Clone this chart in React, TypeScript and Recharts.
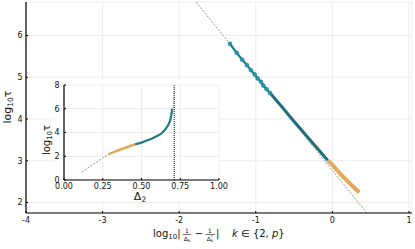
import { CartesianGrid, Line, LineChart, ReferenceLine, XAxis, YAxis } from "recharts";

const FONT = "DejaVu Sans, sans-serif";

const mainXTicks = [-4, -3, -2, -1, 0, 1];
const mainYTicks = [2, 3, 4, 5, 6];
const insetXTicks = [0, 0.25, 0.5, 0.75, 1];
const insetYTicks = [0, 2, 4, 6, 8];

// reference slope line in the main panel
const fitLine = [
  { x: -1.78, y: 6.8 },
  { x: 0.45, y: 1.75 },
];

// upper part: sparse points, markers visible
const tealSparse = [
  { x: -1.337, y: 5.8 },
  { x: -1.249, y: 5.584 },
  { x: -1.176, y: 5.416 },
  { x: -1.115, y: 5.289 },
  { x: -1.063, y: 5.169 },
  { x: -1.014, y: 5.066 },
  { x: -0.975, y: 4.97 },
  { x: -0.932, y: 4.889 },
  { x: -0.902, y: 4.802 },
  { x: -0.858, y: 4.714 },
  { x: -0.815, y: 4.625 },
];

// lower part: dense points, merges into a thick line
const tealDense = [
  { x: -0.815, y: 4.625 },
  { x: -0.78, y: 4.55 },
  { x: -0.71, y: 4.4 },
  { x: -0.64, y: 4.25 },
  { x: -0.56, y: 4.07 },
  { x: -0.48, y: 3.9 },
  { x: -0.4, y: 3.73 },
  { x: -0.32, y: 3.56 },
  { x: -0.24, y: 3.39 },
  { x: -0.16, y: 3.22 },
  { x: -0.09, y: 3.07 },
  { x: -0.06, y: 3.01 },
];

const orangeMain = [
  { x: -0.06, y: 3.01 },
  { x: 0.0, y: 2.9 },
  { x: 0.05, y: 2.8 },
  { x: 0.1, y: 2.7 },
  { x: 0.15, y: 2.6 },
  { x: 0.2, y: 2.51 },
  { x: 0.25, y: 2.42 },
  { x: 0.3, y: 2.33 },
  { x: 0.35, y: 2.24 },
];

const insetCurve = [
  { x: 0.115, y: 0.65 },
  { x: 0.15, y: 0.98 },
  { x: 0.2, y: 1.42 },
  { x: 0.25, y: 1.85 },
  { x: 0.29, y: 2.18 },
  { x: 0.35, y: 2.45 },
  { x: 0.4, y: 2.7 },
  { x: 0.45, y: 2.95 },
  { x: 0.5, y: 3.18 },
  { x: 0.55, y: 3.4 },
  { x: 0.6, y: 3.7 },
  { x: 0.64, y: 4.05 },
  { x: 0.67, y: 4.5 },
  { x: 0.69, y: 5.1 },
  { x: 0.7, y: 5.7 },
  { x: 0.705, y: 6.2 },
  { x: 0.71, y: 7.0 },
  { x: 0.713, y: 8.0 },
];

const insetOrange = [
  { x: 0.289, y: 2.18 },
  { x: 0.32, y: 2.35 },
  { x: 0.35, y: 2.5 },
  { x: 0.38, y: 2.64 },
  { x: 0.41, y: 2.78 },
  { x: 0.44, y: 2.92 },
  { x: 0.459, y: 3.0 },
];

const insetTeal = [
  { x: 0.459, y: 3.0 },
  { x: 0.5, y: 3.15 },
  { x: 0.53, y: 3.3 },
  { x: 0.565, y: 3.48 },
  { x: 0.6, y: 3.7 },
  { x: 0.628, y: 3.9 },
  { x: 0.65, y: 4.2 },
  { x: 0.671, y: 4.6 },
  { x: 0.685, y: 5.0 },
  { x: 0.692, y: 5.46 },
  { x: 0.698, y: 6.0 },
];

const criticalDelta = 0.711;

const TEAL = "#1f7d8c";
const TEAL_DARK = "#1b6f7c";
const TEAL_DOT = "#2a95a8";
const ORANGE = "#e2a95b";
const GRAY = "#8a8a8a";
const GRID = "#e9e9e9";

const tickStyle = { fontSize: 8, fill: "#111", fontFamily: FONT };
const axisLine = { stroke: "#000", strokeWidth: 1.2 };

function MainXLabel() {
  const small = { fontSize: 6, fontFamily: FONT, fill: "#111" };
  return (
    <g fontFamily={FONT} fill="#111">
      <text x={153} y={237} fontSize={10}>
        log<tspan fontSize={7} dy={2}>10</tspan>
        <tspan dy={-2}>|</tspan>
      </text>
      <text x={187} y={232.5} textAnchor="middle" {...small}>1</text>
      <line x1={183} x2={191} y1={234.5} y2={234.5} stroke="#111" strokeWidth={0.6} />
      <text x={187} y={241} textAnchor="middle" {...small}>
        Δ<tspan fontSize={4} dy={1}>k</tspan>
      </text>
      <text x={199} y={237} fontSize={10} textAnchor="middle">−</text>
      <text x={210} y={232.5} textAnchor="middle" {...small}>1</text>
      <line x1={205.5} x2={214.5} y1={234.5} y2={234.5} stroke="#111" strokeWidth={0.6} />
      <text x={210} y={241} textAnchor="middle" {...small}>
        Δ<tspan fontSize={4} dy={1}>k</tspan>
        <tspan fontSize={4} dx={-2.5} dy={-4}>*</tspan>
      </text>
      <text x={216} y={237} fontSize={10}>|</text>
      <text x={232} y={237} fontSize={10}>
        <tspan fontStyle="italic">k</tspan> ∈ {"{"}2, <tspan fontStyle="italic">p</tspan>{"}"}
      </text>
    </g>
  );
}

function Inset() {
  return (
    <div style={{ position: "absolute", left: 40, top: 80, width: 190, height: 123 }}>
      <div style={{ position: "absolute", left: 15, top: 0, width: 165, height: 121, background: "#fff" }} />
      <div style={{ position: "absolute", left: 0, top: 0 }}>
        <LineChart width={190} height={123} margin={{ top: 5, right: 11, bottom: 0, left: 0 }}>
          <CartesianGrid stroke={GRID} strokeWidth={0.8} />
          <XAxis
            type="number"
            dataKey="x"
            domain={[0, 1]}
            ticks={insetXTicks}
            interval={0}
            allowDataOverflow
            height={23}
            axisLine={axisLine}
            tickLine={{ stroke: "#000" }}
            tickSize={-2}
            tickMargin={5}
            tick={tickStyle}
            tickFormatter={(v: number) => v.toFixed(2)}
          />
          <YAxis
            type="number"
            dataKey="y"
            domain={[0, 8]}
            ticks={insetYTicks}
            interval={0}
            allowDataOverflow
            width={24}
            axisLine={axisLine}
            tickLine={{ stroke: "#000" }}
            tickSize={-2}
            tickMargin={6.5}
            tick={tickStyle}
          />
          <ReferenceLine x={criticalDelta} stroke="#000" strokeWidth={1} strokeDasharray="1 1" />
          <Line data={insetCurve} dataKey="y" stroke={GRAY} strokeWidth={0.9} strokeDasharray="2 1.5" dot={false} isAnimationActive={false} />
          <Line data={insetOrange} dataKey="y" stroke={ORANGE} strokeWidth={2.6} dot={false} isAnimationActive={false} />
          <Line data={insetTeal} dataKey="y" stroke={TEAL} strokeWidth={2.2} dot={false} isAnimationActive={false} />
          <text x={10} y={60} transform="rotate(-90 10 60)" textAnchor="middle" fontSize={10} fontFamily={FONT} fill="#111">
            log<tspan fontSize={7} dy={2}>10</tspan>
            <tspan dy={-2}>τ</tspan>
          </text>
          <text x={100} y={120} textAnchor="middle" fontSize={11} fontFamily={FONT} fill="#111">
            Δ<tspan fontSize={7.5} dy={2}>2</tspan>
          </text>
        </LineChart>
      </div>
    </div>
  );
}

export default function App() {
  return (
    <div style={{ position: "absolute", left: 0, top: 0, width: 415, height: 249, background: "#fff" }}>
      <div style={{ position: "absolute", left: 0, top: 0 }}>
        <LineChart width={415} height={249} margin={{ top: 2, right: 3, bottom: 0, left: 0 }}>
          <CartesianGrid stroke={GRID} strokeWidth={0.8} />
          <XAxis
            type="number"
            dataKey="x"
            domain={[-4, 1.04]}
            ticks={mainXTicks}
            interval={0}
            allowDataOverflow
            height={36}
            axisLine={axisLine}
            tickLine={{ stroke: "#000" }}
            tickSize={-2}
            tickMargin={6}
            tick={tickStyle}
          />
          <YAxis
            type="number"
            dataKey="y"
            domain={[1.75, 6.8]}
            ticks={mainYTicks}
            interval={0}
            allowDataOverflow
            width={26}
            axisLine={axisLine}
            tickLine={{ stroke: "#000" }}
            tickSize={-2}
            tickMargin={5.5}
            tick={tickStyle}
          />
          <Line data={fitLine} dataKey="y" stroke={GRAY} strokeWidth={0.9} strokeDasharray="2 1.5" dot={false} isAnimationActive={false} />
          <Line
            data={tealSparse}
            dataKey="y"
            stroke={TEAL}
            strokeWidth={2.2}
            dot={{ r: 2, fill: TEAL_DOT, stroke: TEAL, strokeWidth: 0.5 }}
            isAnimationActive={false}
          />
          <Line data={tealDense} dataKey="y" stroke={TEAL_DARK} strokeWidth={3} dot={false} isAnimationActive={false} />
          <Line data={orangeMain} dataKey="y" stroke={ORANGE} strokeWidth={4} dot={false} isAnimationActive={false} />
          <text x={11} y={107} transform="rotate(-90 11 107)" textAnchor="middle" fontSize={11} fontFamily={FONT} fill="#111">
            log<tspan fontSize={7.5} dy={2}>10</tspan>
            <tspan dy={-2}>τ</tspan>
          </text>
          <MainXLabel />
        </LineChart>
      </div>
      <Inset />
    </div>
  );
}
